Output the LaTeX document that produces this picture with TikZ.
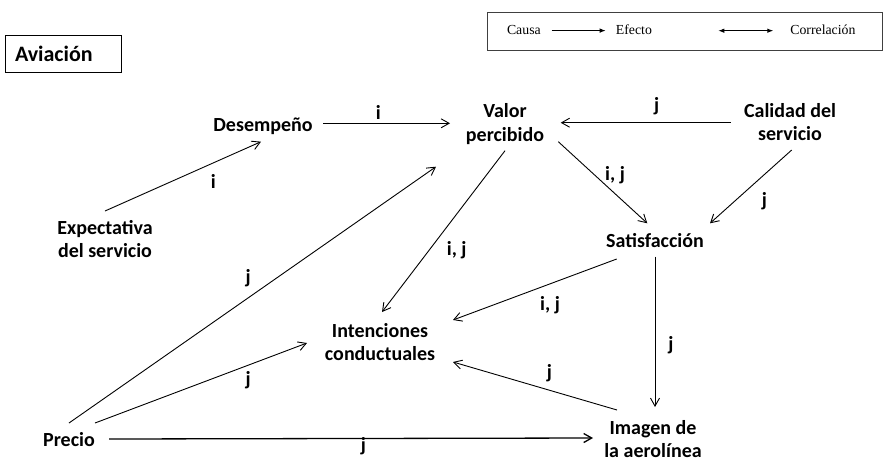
\documentclass[tikz,border=0pt]{standalone}
\usepackage{fontspec}
\setmainfont{Carlito}
\newfontfamily\tms{Liberation Serif}
\usetikzlibrary{arrows.meta,calc}
\begin{document}
\begin{tikzpicture}[x=1pt,y=-1pt,
  lbl/.style={font=\fontsize{20}{23.5}\selectfont\bfseries, inner sep=0pt, align=center},
  elab/.style={font=\fontsize{20}{23.5}\selectfont\bfseries, inner sep=0pt, anchor=base},
  arr/.style={-{Straight Barb[length=8pt,width=9pt]}, line width=0.9pt},
  leg/.style={font=\tms\fontsize{13.8}{16}\selectfont, inner sep=0pt, anchor=base},
  legarr/.style={line width=0.9pt},
]
\useasboundingbox (0,0) rectangle (883,464);

% title box
\node[draw, line width=0.9pt, minimum width=116pt, minimum height=37pt, text width=96pt,
      inner xsep=10pt, inner ysep=0pt, align=left, font=\fontsize{22}{26}\selectfont\bfseries]
      (title) at (63,53.5) {Aviación};

% legend
\node[draw, draw=black!75, line width=0.8pt, minimum width=394.7pt, minimum height=38pt, inner sep=0pt]
      (legend) at (684.7,31) {};
\node[leg] (causa) at (523.9,34.3) {Causa};
\node[leg] (efecto) at (633.9,34.3) {Efecto};
\node[leg] (correl) at (822.9,34.3) {Correlación};
\draw[legarr, -{Latex[length=6pt,width=4.5pt]}] ($(causa.east)+(10.7,0.8)$) -- ($(causa.east -| efecto.west)+(-10,0.8)$);
\coordinate (cl) at (718.3,30.7);
\coordinate (cr) at (773.3,30.7);
\draw[legarr, {Latex[length=6pt,width=4.5pt]}-{Latex[length=6pt,width=4.5pt]}] (cl) -- (cr);

% concept nodes
\node[lbl] (des) at (263,126.5) {Desempeño};
\node[lbl] (valor) at (505,124.3) {Valor\\percibido};
\node[lbl] (cal) at (790,121.9) {Calidad del\\servicio};
\node[lbl] (exp) at (105,238.9) {Expectativa\\del servicio};
\node[lbl] (sat) at (655,240.2) {Satisfacción};
\node[lbl] (int) at (380,342.2) {Intenciones\\conductuales};
\node[lbl] (pre) at (69,439.5) {Precio};
\node[lbl] (img) at (653,438.9) {Imagen de\\la aerolínea};

% connectors
\draw[arr] ($(exp)+(0,-27.9)$) -- ($(des)+(-2,15.2)$);
\draw[arr] ($(des)+(60,-3.2)$) -- ($(valor)+(-55,-1)$);
\draw[arr] ($(cal)+(-59.3,0.8)$) -- ($(valor)+(55.7,-1.6)$);
\draw[arr] ($(valor)+(53.3,17.4)$) -- ($(sat)+(-7.7,-16.9)$);
\draw[arr] ($(cal)+(1.7,28.1)$) -- ($(sat)+(55,-16.9)$);
\draw[arr] ($(valor)+(0,26.4)$) -- ($(int)+(2,-30.2)$);
\draw[arr] ($(pre)+(0,-16.5)$) -- ($(valor)+(-69,42.4)$);
\draw[arr] ($(pre)+(26,-16.5)$) -- ($(int)+(-73,0.8)$);
\draw[arr] ($(sat)+(-38.3,18.8)$) -- ($(int)+(73,-22.2)$);
\draw[arr] ($(sat)+(0,16.5)$) -- ($(img)+(2,-31.9)$);
\draw[arr] ($(img)+(-36,-28.9)$) -- ($(int)+(73,19.8)$);
\draw[arr, line width=1.3pt] ($(pre)+(40,-0.5)$) -- ($(img)+(-60,-0.9)$);

% connector labels
\node[elab] (l1) at (213.3,188.3) {i};
\node[elab] (l2) at (378.3,119) {i};
\node[elab] (l3) at (656.7,111) {j};
\node[elab] (l4) at (615,180) {i, j};
\node[elab] (l5) at (764.3,206.7) {j};
\node[elab] (l6) at (456.7,255) {i, j};
\node[elab] (l7) at (248.3,283.3) {j};
\node[elab] (l8) at (248.3,385) {j};
\node[elab] (l9) at (550,310) {i, j};
\node[elab] (l10) at (671,350) {j};
\node[elab] (l11) at (549.3,378.3) {j};
\node[elab] (l12) at (363.3,451.7) {j};
\end{tikzpicture}
\end{document}
